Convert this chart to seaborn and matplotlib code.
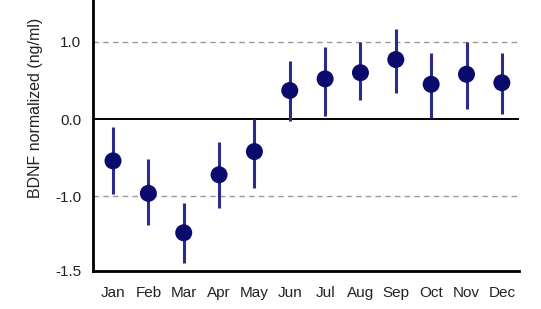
import matplotlib
matplotlib.use("Agg")
import matplotlib.pyplot as plt
import seaborn as sns
import pandas as pd

months = ["Jan", "Feb", "Mar", "Apr", "May", "Jun", "Jul", "Aug", "Sep", "Oct", "Nov", "Dec"]
mean = [-0.54, -0.96, -1.47, -0.72, -0.42, 0.37, 0.52, 0.60, 0.77, 0.45, 0.58, 0.47]
upper = [-0.10, -0.51, -1.08, -0.29, 0.00, 0.75, 0.93, 1.00, 1.16, 0.85, 1.00, 0.86]
lower = [-0.97, -1.37, -1.86, -1.15, -0.89, -0.02, 0.04, 0.25, 0.34, 0.02, 0.13, 0.07]
ytick_pos = [1.0, 0.0, -1.0, -1.96]
ytick_lab = ["1.0", "0.0", "-1.0", "-1.5"]

df = pd.DataFrame({"month": months, "mean": mean, "lo": lower, "hi": upper})

sns.set_style("white")
plt.rcParams["font.family"] = ["Liberation Sans", "DejaVu Sans"]

fig = plt.figure(figsize=(5.41, 3.09), dpi=100)
ax = fig.add_axes([0.171, 0.124, 0.788, 0.876])

ax.axhline(1.0, color="#999999", lw=1.0, ls=(0, (4, 3)), zorder=1)
ax.axhline(-1.0, color="#999999", lw=1.0, ls=(0, (4, 3)), zorder=1)
ax.axhline(0.0, color="black", lw=1.4, zorder=1)

sns.scatterplot(data=df, x="month", y="mean", ax=ax, s=150, color="#0b0b6e",
                edgecolor="none", zorder=3, legend=False)
ax.vlines(df["month"], df["lo"], df["hi"], color="#2b2b8c", lw=2.2, zorder=2)

ax.set_xlim(-0.58, 11.48)
ax.set_ylim(-1.96, 1.54)
ax.set_yticks(ytick_pos)
ax.set_yticklabels(ytick_lab)
ax.set_xlabel("")
ax.set_ylabel("BDNF normalized (ng/ml)", fontsize=11.5, color="#222222")
ax.yaxis.set_label_coords(-0.115, 0.60)
ax.tick_params(axis="both", length=0, labelsize=11, colors="#222222")
ax.tick_params(axis="x", pad=11)
ax.tick_params(axis="y", pad=8)

for s in ["top", "right"]:
    ax.spines[s].set_visible(False)
for s in ["left", "bottom"]:
    ax.spines[s].set_color("black")
    ax.spines[s].set_linewidth(2.0)

fig.savefig("out.png", dpi=100)
